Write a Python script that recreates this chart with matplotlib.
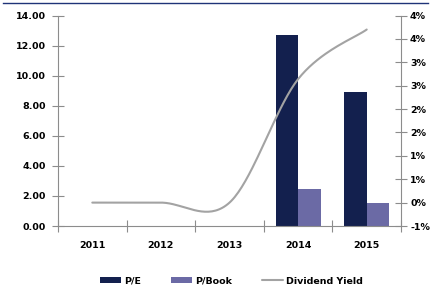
import numpy as np
import matplotlib
matplotlib.use('Agg')
import matplotlib.pyplot as plt
from matplotlib.lines import Line2D

plt.rcParams.update({'font.size': 6.8, 'font.family': 'DejaVu Sans', 'font.weight': 'bold'})

# data
years = ['2011', '2012', '2013', '2014', '2015']
pe = [0, 0, 0, 12.7, 8.9]
pbook = [0, 0, 0, 2.44, 1.51]
div_yield = [0.0, 0.0, 0.0, 2.64, 3.70]   # percent

PE_COLOR = '#13204e'
PB_COLOR = '#6b6aa5'
LINE_COLOR = '#a3a3a3'
AXIS_COLOR = '#8c8c8c'


def smooth_curve(xs, ys, n=40):
    # bezier smoothing like the spreadsheet "smoothed line" option
    pts = np.column_stack([xs, ys]).astype(float)
    out = []
    for i in range(len(pts) - 1):
        p0 = pts[max(i - 1, 0)]
        p1 = pts[i]
        p2 = pts[i + 1]
        p3 = pts[min(i + 2, len(pts) - 1)]
        c1 = p1 + (p2 - p0) / 6
        c2 = p2 - (p3 - p1) / 6
        t = np.linspace(0, 1, n)[:, None]
        seg = (1 - t) ** 3 * p1 + 3 * (1 - t) ** 2 * t * c1 + 3 * (1 - t) * t ** 2 * c2 + t ** 3 * p2
        out.append(seg if i == 0 else seg[1:])
    out = np.vstack(out)
    return out[:, 0], out[:, 1]


def pct_label(v):
    # round half away from zero, as the original axis does
    r = int(np.sign(v) * np.floor(abs(v) + 0.5 + 1e-9))
    return f'{r}%'


x = np.arange(len(years))
w = 0.327

fig = plt.figure(figsize=(4.31, 2.9), dpi=100)
ax = fig.add_axes([58 / 431, 1 - 226 / 290, (401 - 58) / 431, (226 - 15.5) / 290])
ax2 = ax.twinx()

ax.bar(x - w / 2, pe, w, color=PE_COLOR, label='P/E', zorder=2)
ax.bar(x + w / 2, pbook, w, color=PB_COLOR, label='P/Book', zorder=2)

sx, sy = smooth_curve(x, div_yield)
ax2.plot(sx, sy, color=LINE_COLOR, lw=1.5, solid_capstyle='round', label='Dividend Yield')

ax.set_xlim(-0.5, len(years) - 0.5)
ax.set_ylim(0, 14)
ax.set_yticks(np.arange(0, 14.01, 2))
ax.set_yticklabels([f'{v:.2f}' for v in np.arange(0, 14.01, 2)])

ax2.set_ylim(-0.5, 4.0)
rt = np.arange(-0.5, 4.01, 0.5)
ax2.set_yticks(rt)
ax2.set_yticklabels([pct_label(v) for v in rt])

ax.set_xticks(x)
ax.set_xticklabels(years)
ax.set_xticks(np.arange(-0.5, len(years), 1), minor=True)
ax.tick_params(axis='x', which='major', length=0, pad=11)
ax.tick_params(axis='x', which='minor', length=8, direction='inout', color=AXIS_COLOR, width=0.8)
ax.tick_params(axis='y', length=8, direction='inout', color=AXIS_COLOR, width=0.8, pad=5)
ax2.tick_params(axis='y', length=8, direction='inout', color=AXIS_COLOR, width=0.8, pad=2.5)

for a in (ax, ax2):
    a.spines['top'].set_visible(False)
    for s in ('left', 'right', 'bottom'):
        a.spines[s].set_color(AXIS_COLOR)
        a.spines[s].set_linewidth(0.8)
ax.spines['right'].set_visible(False)
ax2.spines['left'].set_visible(False)
ax2.spines['bottom'].set_visible(False)

# thin blue rule along the top of the picture
fig.add_artist(Line2D([3 / 431, 428 / 431], [1 - 3 / 290, 1 - 3 / 290], color='#1f3378', lw=1.0))

h1, l1 = ax.get_legend_handles_labels()
h2, l2 = ax2.get_legend_handles_labels()
fig.legend(h1 + h2, l1 + l2, loc='center', bbox_to_anchor=(0.537, 1 - 281 / 290), ncol=3,
           frameon=False, handlelength=2.2, handleheight=0.5, handletextpad=0.3,
           columnspacing=3.2, fontsize=6.8)

fig.savefig('out.png', dpi=100, facecolor='white')
